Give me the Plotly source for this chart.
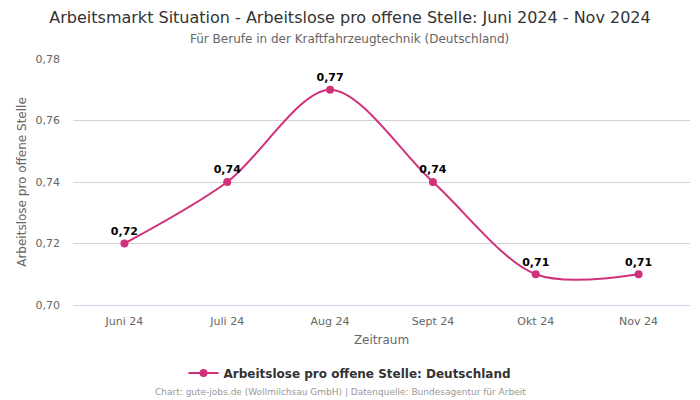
import plotly.graph_objects as go

categories = ["Juni 24", "Juli 24", "Aug 24", "Sept 24", "Okt 24", "Nov 24"]
values = [0.72, 0.74, 0.77, 0.74, 0.71, 0.71]
labels = ["0,72", "0,74", "0,77", "0,74", "0,71", "0,71"]
y_ticks = [0.70, 0.72, 0.74, 0.76, 0.78]
y_tick_labels = ["0,70", "0,72", "0,74", "0,76", "0,78"]

color = "#d1307b"
font = "DejaVu Sans, sans-serif"

W, H = 700, 400
ML, MR, MT, MB = 73, 10, 59, 95
plot_h = H - MT - MB
plot_w = W - ML - MR

def py(px):
    return (H - MB - px) / plot_h

def pxx(px):
    return (px - ML) / plot_w

fig = go.Figure()
fig.add_trace(go.Scatter(
    x=categories, y=values,
    mode="lines+markers+text",
    line=dict(color=color, width=2, shape="spline", smoothing=0.9),
    marker=dict(color=color, size=8),
    text=labels, textposition="top center",
    textfont=dict(family=font, size=11, color="#000000", weight="bold"),
    name="Arbeitslose pro offene Stelle: Deutschland",
    cliponaxis=False,
))

fig.update_layout(
    width=W, height=H,
    margin=dict(l=ML, r=MR, t=MT, b=MB),
    paper_bgcolor="white", plot_bgcolor="white",
    font=dict(family=font, color="#666666", size=11),
    title=dict(text="Arbeitsmarkt Situation - Arbeitslose pro offene Stelle: Juni 2024 - Nov 2024",
               x=0.5, xanchor="center", y=1 - 17 / H, yanchor="middle",
               font=dict(size=16, color="#333333", family=font)),
    showlegend=True,
    legend=dict(orientation="h", x=pxx(350), xanchor="center", y=py(373), yanchor="middle",
                font=dict(size=12, color="#333333", family=font, weight="bold")),
    xaxis=dict(type="category", range=[-0.5, 5.5], showgrid=False,
               showline=True, linecolor="#ccd6eb", linewidth=1, ticks="",
               ticklabelstandoff=6,
               tickfont=dict(size=11, color="#666666"),
               title=dict(text="Zeitraum", font=dict(size=12, color="#666666"), standoff=8)),
    yaxis=dict(range=[0.70, 0.78], tickvals=y_ticks, ticktext=y_tick_labels,
               showgrid=True, gridcolor="#d3d3d3", gridwidth=1, zeroline=False,
               ticklabelstandoff=12,
               tickfont=dict(size=11, color="#666666"),
               title=dict(text="Arbeitslose pro offene Stelle", font=dict(size=12, color="#666666"), standoff=6)),
    annotations=[
        dict(text="Für Berufe in der Kraftfahrzeugtechnik (Deutschland)", x=pxx(349), y=py(39),
             xref="paper", yref="paper", showarrow=False, yanchor="middle",
             font=dict(size=12, color="#666666")),
        dict(text="Chart: gute-jobs.de (Wollmilchsau GmbH) | Datenquelle: Bundesagentur für Arbeit",
             x=pxx(340), y=py(392), xref="paper", yref="paper", showarrow=False, yanchor="middle",
             font=dict(size=9, color="#999999")),
    ],
)

fig.write_html("out.html", config={"displayModeBar": False})
with open("out.html", "r", encoding="utf-8") as f:
    html = f.read()
html = html.replace("<body>", "<body style=\"margin:0;padding:0;\">", 1)
with open("out.html", "w", encoding="utf-8") as f:
    f.write(html)
